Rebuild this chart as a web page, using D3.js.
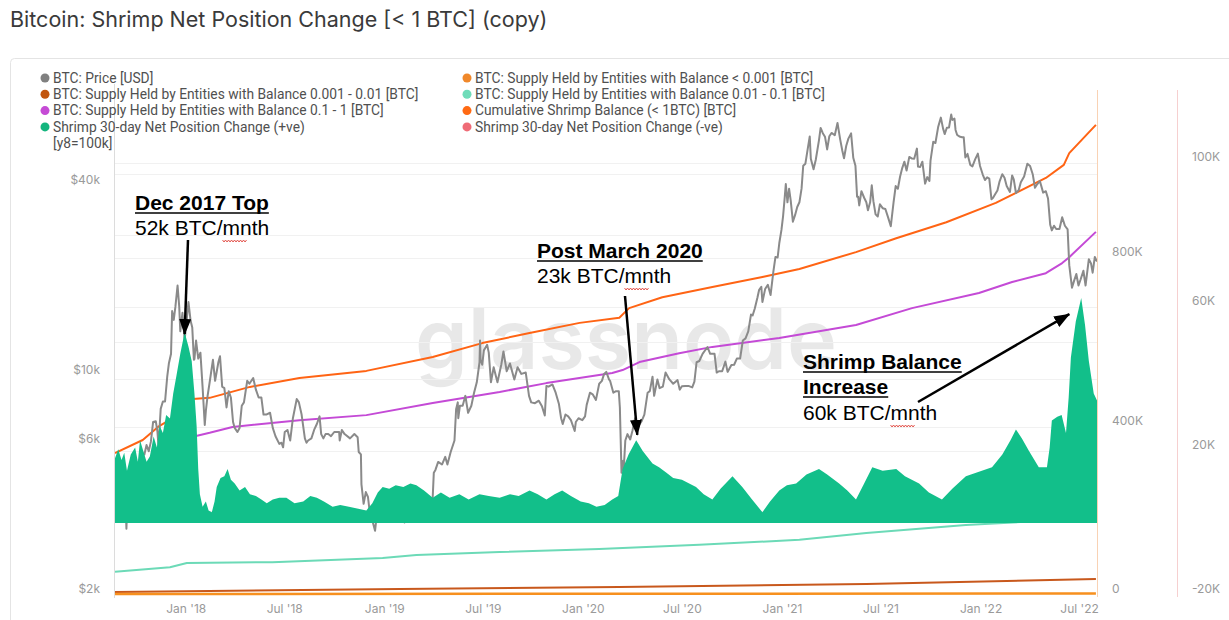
<!DOCTYPE html>
<html>
<head>
<meta charset="utf-8">
<script src="https://cdn.jsdelivr.net/npm/d3@7"></script>
<style>
  body { margin: 0; background: #fff; }
  svg { display: block; }
</style>
</head>
<body>
<svg id="chart" width="1229" height="620"></svg>
<script>
// ---- data ----
const priceData = [
  ["2017-08-24",4320],["2017-08-28",4380],["2017-09-01",4900],["2017-09-05",4600],["2017-09-08",4230],
  ["2017-09-12",4170],["2017-09-14",3250],["2017-09-15",3700],["2017-09-18",4090],["2017-09-22",3630],
  ["2017-09-26",3900],["2017-09-30",4340],["2017-10-05",4330],["2017-10-10",4780],["2017-10-13",5650],
  ["2017-10-17",5600],["2017-10-21",6000],["2017-10-25",5730],["2017-10-29",6150],["2017-11-02",7100],
  ["2017-11-07",7140],["2017-11-10",6620],["2017-11-12",5950],["2017-11-16",7820],["2017-11-20",8250],
  ["2017-11-24",8250],["2017-11-28",9900],["2017-12-01",10900],["2017-12-05",11700],["2017-12-07",16000],
  ["2017-12-10",15000],["2017-12-13",16500],["2017-12-17",19300],["2017-12-20",16600],["2017-12-22",13800],
  ["2017-12-26",15800],["2017-12-30",12950],["2018-01-03",15100],["2018-01-06",17100],["2018-01-10",14900],
  ["2018-01-13",14200],["2018-01-16",11200],["2018-01-17",11250],["2018-01-20",12900],["2018-01-24",11300],
  ["2018-01-28",11800],["2018-02-01",9170],["2018-02-05",6950],["2018-02-07",7700],["2018-02-10",8550],
  ["2018-02-14",9500],["2018-02-20",11200],["2018-02-24",9600],["2018-03-02",11000],["2018-03-05",11500],
  ["2018-03-09",9200],["2018-03-13",9100],["2018-03-17",7900],["2018-03-21",8900],["2018-03-25",8500],
  ["2018-03-29",7100],["2018-04-01",6800],["2018-04-06",6600],["2018-04-10",6800],["2018-04-14",8000],
  ["2018-04-18",8200],["2018-04-24",9600],["2018-04-28",9400],["2018-05-05",9800],["2018-05-10",9000],
  ["2018-05-15",8500],["2018-05-20",8500],["2018-05-24",7500],["2018-05-29",7500],["2018-06-05",7600],
  ["2018-06-10",6800],["2018-06-15",6400],["2018-06-22",6050],["2018-06-26",6100],["2018-06-29",5900],
  ["2018-07-02",6600],["2018-07-07",6700],["2018-07-12",6200],["2018-07-17",7300],["2018-07-24",8400],
  ["2018-07-28",8200],["2018-08-02",7500],["2018-08-08",6300],["2018-08-11",6100],["2018-08-14",6200],
  ["2018-08-20",6300],["2018-08-25",6700],["2018-08-30",7000],["2018-09-04",7400],["2018-09-07",6500],
  ["2018-09-11",6300],["2018-09-15",6500],["2018-09-20",6500],["2018-09-25",6400],["2018-10-01",6600],
  ["2018-10-10",6600],["2018-10-11",6200],["2018-10-15",6700],["2018-10-20",6500],["2018-10-30",6300],
  ["2018-11-07",6500],["2018-11-13",6350],["2018-11-15",5700],["2018-11-19",5600],["2018-11-20",4500],
  ["2018-11-24",3900],["2018-11-28",4250],["2018-12-02",4100],["2018-12-07",3450],["2018-12-11",3400],
  ["2018-12-15",3200],["2018-12-19",3700],["2018-12-21",4000],["2018-12-24",4000],["2018-12-28",3850],
  ["2019-01-02",3900],["2019-01-08",4000],["2019-01-10",3600],["2019-01-15",3600],["2019-01-20",3600],
  ["2019-01-28",3450],["2019-02-02",3500],["2019-02-07",3400],["2019-02-10",3600],["2019-02-15",3600],
  ["2019-02-19",3900],["2019-02-24",4150],["2019-02-25",3800],["2019-03-04",3750],["2019-03-10",3900],
  ["2019-03-16",4000],["2019-03-25",3950],["2019-03-31",4100],["2019-04-02",4900],["2019-04-05",5000],
  ["2019-04-10",5300],["2019-04-17",5200],["2019-04-23",5500],["2019-04-27",5200],["2019-05-03",5700],
  ["2019-05-10",6200],["2019-05-13",7800],["2019-05-16",8200],["2019-05-17",7300],["2019-05-20",8000],
  ["2019-05-25",8000],["2019-05-30",8600],["2019-06-04",7600],["2019-06-10",8000],["2019-06-15",8800],
  ["2019-06-20",9500],["2019-06-25",11000],["2019-06-26",12900],["2019-06-27",11200],["2019-06-30",10800],
  ["2019-07-03",12000],["2019-07-09",12500],["2019-07-12",11800],["2019-07-16",9500],["2019-07-21",10600],
  ["2019-07-28",9500],["2019-08-04",10800],["2019-08-08",11900],["2019-08-14",10300],["2019-08-20",10900],
  ["2019-08-28",9700],["2019-09-03",10600],["2019-09-10",10100],["2019-09-18",10200],["2019-09-24",8600],
  ["2019-09-28",8200],["2019-10-05",8150],["2019-10-12",8300],["2019-10-18",7950],["2019-10-23",7450],
  ["2019-10-26",9250],["2019-10-30",9200],["2019-11-06",9350],["2019-11-12",8800],["2019-11-18",8100],
  ["2019-11-22",7300],["2019-11-25",7000],["2019-11-30",7500],["2019-12-05",7400],["2019-12-10",7200],
  ["2019-12-17",6650],["2019-12-19",7100],["2019-12-24",7300],["2019-12-31",7200],["2020-01-05",7400],
  ["2020-01-08",8050],["2020-01-14",8800],["2020-01-19",8700],["2020-01-25",8350],["2020-01-31",9400],
  ["2020-02-05",9600],["2020-02-09",10100],["2020-02-13",10250],["2020-02-18",9700],["2020-02-20",9600],
  ["2020-02-26",8800],["2020-03-02",8900],["2020-03-07",8900],["2020-03-09",7900],["2020-03-12",4900],
  ["2020-03-15",5350],["2020-03-16",5000],["2020-03-19",6200],["2020-03-23",6500],["2020-03-28",6250],
  ["2020-04-01",6650],["2020-04-06",7300],["2020-04-12",6900],["2020-04-18",7150],["2020-04-23",7500],
  ["2020-04-29",8800],["2020-05-03",8900],["2020-05-08",9900],["2020-05-11",8600],["2020-05-17",9700],
  ["2020-05-21",9100],["2020-05-27",9200],["2020-06-01",10200],["2020-06-08",9700],["2020-06-15",9400],
  ["2020-06-23",9650],["2020-06-27",9000],["2020-07-01",9230],["2020-07-07",9250],["2020-07-13",9250],
  ["2020-07-20",9150],["2020-07-24",9550],["2020-07-28",11000],["2020-08-02",11100],["2020-08-08",11700],
  ["2020-08-17",12300],["2020-08-22",11700],["2020-08-30",11700],["2020-09-03",10200],["2020-09-07",10300],
  ["2020-09-13",10300],["2020-09-19",11050],["2020-09-23",10250],["2020-09-30",10780],["2020-10-05",10800],
  ["2020-10-10",11300],["2020-10-16",11300],["2020-10-21",12900],["2020-10-26",13100],["2020-10-31",13800],
  ["2020-11-05",15600],["2020-11-08",15500],["2020-11-12",16300],["2020-11-17",17700],["2020-11-20",18700],
  ["2020-11-24",19100],["2020-11-26",17100],["2020-12-01",18800],["2020-12-06",19400],["2020-12-11",18000],
  ["2020-12-16",21300],["2020-12-20",23800],["2020-12-24",23700],["2020-12-27",26300],["2020-12-31",29000],
  ["2021-01-03",32100],["2021-01-06",36800],["2021-01-08",40600],["2021-01-11",35500],["2021-01-14",39200],
  ["2021-01-17",36000],["2021-01-21",30800],["2021-01-25",32300],["2021-01-29",34300],["2021-02-02",35500],
  ["2021-02-06",39300],["2021-02-09",46400],["2021-02-13",47100],["2021-02-17",52100],["2021-02-21",57500],
  ["2021-02-23",48800],["2021-02-28",45200],["2021-03-04",48400],["2021-03-10",56000],["2021-03-13",61200],
  ["2021-03-17",58900],["2021-03-21",57400],["2021-03-25",52300],["2021-03-29",57600],["2021-04-02",59000],
  ["2021-04-08",58000],["2021-04-13",63500],["2021-04-18",56200],["2021-04-22",51700],["2021-04-25",49000],
  ["2021-04-29",53600],["2021-05-03",56600],["2021-05-08",58800],["2021-05-12",49200],["2021-05-16",46400],
  ["2021-05-19",37000],["2021-05-21",37000],["2021-05-23",34700],["2021-05-27",38500],["2021-06-01",36700],
  ["2021-06-05",35500],["2021-06-08",33500],["2021-06-12",35500],["2021-06-15",40200],["2021-06-18",35800],
  ["2021-06-22",32500],["2021-06-26",32000],["2021-06-30",35000],["2021-07-05",34000],["2021-07-10",33800],
  ["2021-07-15",31800],["2021-07-20",29800],["2021-07-25",35400],["2021-07-29",40000],["2021-08-02",39200],
  ["2021-08-06",42800],["2021-08-10",45600],["2021-08-14",47800],["2021-08-18",44800],["2021-08-23",49500],
  ["2021-08-28",48900],["2021-09-01",48800],["2021-09-06",52600],["2021-09-08",46100],["2021-09-12",46000],
  ["2021-09-16",47800],["2021-09-21",40700],["2021-09-25",42700],["2021-09-29",41500],["2021-10-01",48200],
  ["2021-10-06",55300],["2021-10-10",54800],["2021-10-15",61600],["2021-10-20",66000],["2021-10-24",61000],
  ["2021-10-27",58500],["2021-10-31",61300],["2021-11-04",61400],["2021-11-08",67500],["2021-11-10",64900],
  ["2021-11-14",65500],["2021-11-16",60300],["2021-11-19",58100],["2021-11-23",57500],["2021-11-28",57200],
  ["2021-12-01",57200],["2021-12-04",49300],["2021-12-08",50600],["2021-12-13",46700],["2021-12-17",46200],
  ["2021-12-22",48600],["2021-12-27",50700],["2021-12-31",46300],["2022-01-05",43500],["2022-01-09",41800],
  ["2022-01-13",42600],["2022-01-17",42200],["2022-01-21",36300],["2022-01-24",36700],["2022-01-28",37700],
  ["2022-02-01",38700],["2022-02-05",41400],["2022-02-10",43600],["2022-02-14",42500],["2022-02-18",40000],
  ["2022-02-24",38300],["2022-02-28",43200],["2022-03-03",42000],["2022-03-07",38000],["2022-03-12",38800],
  ["2022-03-16",41100],["2022-03-22",42900],["2022-03-28",47100],["2022-04-02",46300],["2022-04-07",43500],
  ["2022-04-11",39500],["2022-04-15",40500],["2022-04-20",41500],["2022-04-26",38100],["2022-05-01",38500],
  ["2022-05-05",36500],["2022-05-09",30100],["2022-05-12",28900],["2022-05-16",29900],["2022-05-20",29200],
  ["2022-05-26",29200],["2022-05-31",31800],["2022-06-05",29900],["2022-06-10",29100],["2022-06-13",22400],
  ["2022-06-18",19000],["2022-06-22",20000],["2022-06-26",21000],["2022-06-30",19300],["2022-07-04",20200],
  ["2022-07-09",21500],["2022-07-13",19300],["2022-07-19",23400],["2022-07-23",22700],["2022-07-26",21200],
  ["2022-07-30",23800],["2022-08-03",23000]
];

// Shrimp 30-day Net Position Change (+ve) [BTC]
const netPositive = [
  ["2017-08-24",18000],["2017-08-30",20500],["2017-09-05",17500],["2017-09-10",19500],["2017-09-15",14500],
  ["2017-09-22",19000],["2017-09-30",21000],["2017-10-05",17000],["2017-10-09",23000],["2017-10-15",20000],
  ["2017-10-21",17000],["2017-10-27",18500],["2017-11-03",24000],["2017-11-09",21000],["2017-11-14",27000],
  ["2017-11-20",25000],["2017-11-26",30000],["2017-12-03",29000],["2017-12-09",36000],["2017-12-15",41000],
  ["2017-12-22",47000],["2017-12-30",53000],["2018-01-06",49000],["2018-01-12",45000],["2018-01-17",36000],
  ["2018-01-21",27000],["2018-01-24",15000],["2018-01-27",8000],["2018-02-01",4500],["2018-02-07",6000],
  ["2018-02-12",3500],["2018-02-18",3000],["2018-02-23",6000],["2018-02-27",10000],["2018-03-06",12500],
  ["2018-03-13",13000],["2018-03-19",15000],["2018-03-25",12000],["2018-04-01",11000],["2018-04-10",9000],
  ["2018-04-20",10000],["2018-04-29",8000],["2018-05-10",7500],["2018-05-20",6500],["2018-05-30",5500],
  ["2018-06-10",6500],["2018-06-22",7000],["2018-07-05",7000],["2018-07-20",5500],["2018-08-05",6000],
  ["2018-08-18",7500],["2018-08-30",7000],["2018-09-12",6000],["2018-09-28",4500],["2018-10-12",5000],
  ["2018-10-28",4500],["2018-11-12",4000],["2018-11-29",3500],["2018-12-10",5500],["2018-12-20",8500],
  ["2018-12-29",10000],["2019-01-10",9500],["2019-01-22",10500],["2019-02-05",10000],["2019-02-18",11000],
  ["2019-03-01",10500],["2019-03-15",9000],["2019-03-31",7000],["2019-04-15",8500],["2019-05-01",7000],
  ["2019-05-19",8000],["2019-06-05",6500],["2019-06-25",8000],["2019-07-12",7500],["2019-08-01",7000],
  ["2019-08-20",8000],["2019-09-05",7500],["2019-09-25",9000],["2019-10-10",8000],["2019-10-26",6500],
  ["2019-11-10",8000],["2019-11-24",9000],["2019-12-10",7500],["2019-12-28",6000],["2020-01-12",5500],
  ["2020-01-26",4500],["2020-02-10",5000],["2020-02-24",6500],["2020-03-06",7500],["2020-03-14",15000],
  ["2020-03-25",19000],["2020-04-08",23000],["2020-04-20",20000],["2020-05-08",16500],["2020-05-20",15500],
  ["2020-06-02",14000],["2020-06-15",12500],["2020-07-01",12000],["2020-07-27",10000],["2020-08-10",8000],
  ["2020-08-26",6500],["2020-09-10",9500],["2020-10-02",13000],["2020-10-20",10000],["2020-11-07",6500],
  ["2020-11-26",3000],["2020-12-10",6000],["2020-12-27",9000],["2021-01-10",10500],["2021-01-27",11000],
  ["2021-02-15",13500],["2021-03-10",15000],["2021-03-25",13500],["2021-04-16",11000],["2021-05-01",9000],
  ["2021-05-17",6500],["2021-06-01",11000],["2021-06-16",15500],["2021-07-05",14500],["2021-07-30",15000],
  ["2021-08-15",13000],["2021-09-10",11000],["2021-09-28",8500],["2021-10-22",6500],["2021-11-10",9500],
  ["2021-12-05",13000],["2021-12-25",14000],["2022-01-22",15500],["2022-02-10",19000],["2022-02-25",23000],
  ["2022-03-07",26000],["2022-03-18",23500],["2022-03-31",20000],["2022-04-18",15500],["2022-05-03",15500],
  ["2022-05-08",21000],["2022-05-12",28500],["2022-05-22",29500],["2022-05-30",30000],["2022-06-07",25000],
  ["2022-06-12",35000],["2022-06-16",46000],["2022-06-25",56000],["2022-07-05",62500],["2022-07-12",55000],
  ["2022-07-19",45000],["2022-07-28",36000],["2022-08-03",34000]
];

// Cumulative Shrimp Balance (< 1BTC) [BTC]
const cumulativeShrimp = [
  ["2017-08-24",337000],["2017-10-14",368000],["2017-11-11",399000],["2017-12-08",420000],["2018-01-14",465000],
  ["2018-02-14",468000],["2018-04-29",494000],["2018-07-29",515000],["2018-11-29",532000],["2019-03-31",565000],
  ["2019-06-30",598000],["2019-09-25",622000],["2019-12-26",646000],["2020-03-08",658000],["2020-03-26",681000],
  ["2020-05-26",707000],["2020-08-26",731000],["2020-11-26",755000],["2021-02-02",774000],["2021-05-17",814000],
  ["2021-07-30",847000],["2021-10-30",885000],["2022-01-29",931000],["2022-05-01",990000],["2022-06-03",1021000],
  ["2022-06-13",1049000],["2022-08-01",1116000]
];

// Supply held by entities with balance 0.1 - 1 [BTC]
const supply01to1 = [
  ["2018-01-18",377000],["2018-02-14",385000],["2018-03-28",399000],["2018-07-29",415000],["2018-11-29",427000],
  ["2019-03-31",456000],["2019-08-01",482000],["2019-10-26",503000],["2020-02-24",527000],["2020-03-14",534000],
  ["2020-04-14",553000],["2020-06-26",574000],["2020-08-26",589000],["2020-12-27",610000],["2021-05-17",641000],
  ["2021-08-28",681000],["2021-12-29",717000],["2022-02-28",743000],["2022-05-01",764000],["2022-05-31",788000],
  ["2022-06-13",802000],["2022-08-01",862000]
];

// Supply held by entities with balance 0.01 - 0.1 [BTC]
const supply001to01 = [
  ["2017-08-24",55000],["2017-12-03",66000],["2018-01-03",76000],["2018-06-09",78000],["2018-12-29",88000],
  ["2019-03-01",95000],["2019-08-01",102000],["2020-01-31",109000],["2020-08-02",119000],["2021-02-02",131000],
  ["2021-06-05",147000],["2021-12-05",166000],["2022-08-01",183000]
];

// Supply held by entities with balance 0.001 - 0.01 [BTC]
const supply0001to001 = [
  ["2017-08-24",7000],["2019-01-29",14000],["2020-03-08",19000],["2021-06-05",26000],["2022-08-01",38000]
];

// Supply held by entities with balance < 0.001 [BTC]
const supplyLt0001 = [
  ["2017-08-24",2400],["2020-01-31",2900],["2022-08-01",3500]
];

const priceTicks = [2000, 6000, 10000, 40000];
const priceTickLabels = ["$2k", "$6k", "$10k", "$40k"];
const supplyTicks = [0, 400000, 800000];
const supplyTickLabels = ["0", "400K", "800K"];
const netTicks = [-20000, 20000, 60000, 100000];
const netTickLabels = ["-20K", "20K", "60K", "100K"];
const timeTicks = ["2018-01-01","2018-07-01","2019-01-01","2019-07-01","2020-01-01","2020-07-01","2021-01-01","2021-07-01","2022-01-01","2022-07-01"];
const timeTickLabels = ["Jan '18","Jul '18","Jan '19","Jul '19","Jan '20","Jul '20","Jan '21","Jul '21","Jan '22","Jul '22"];

const legendItems = [
  { name: "BTC: Price [USD]", color: "#808080" },
  { name: "BTC: Supply Held by Entities with Balance < 0.001 [BTC]", color: "#f0882a" },
  { name: "BTC: Supply Held by Entities with Balance 0.001 - 0.01 [BTC]", color: "#c2560f" },
  { name: "BTC: Supply Held by Entities with Balance 0.01 - 0.1 [BTC]", color: "#6fdcb9" },
  { name: "BTC: Supply Held by Entities with Balance 0.1 - 1 [BTC]", color: "#c54bd5" },
  { name: "Cumulative Shrimp Balance (< 1BTC) [BTC]", color: "#ff6a13" },
  { name: "Shrimp 30-day Net Position Change (+ve)", color: "#14b57e" },
  { name: "Shrimp 30-day Net Position Change (-ve)", color: "#ef6b76" }
];

// ---- drawing ----
const parse = d3.timeParse("%Y-%m-%d");
const svg = d3.select("#chart");
const plotLeft = 115, plotRight = 1097, plotTop = 90, plotBottom = 595;

const x = d3.scaleTime().domain([parse("2017-08-24"), parse("2022-08-03")]).range([plotLeft, plotRight]);
const yPrice = d3.scaleLog().domain([2000, 40000]).range([plotBottom, 186]);
const ySupply = d3.scaleLinear().domain([0, 800000]).range([plotBottom, 258]);
const yNet = d3.scaleLinear().domain([-20000, 100000]).range([plotBottom, 163]);

// title and frame
svg.append('text')
  .attr('x', 10).attr('y', 27)
  .attr('font-family', 'Inter, sans-serif')
  .attr('font-size', '21.5px')
  .attr('fill', '#3a3a3a')
  .text('Bitcoin: Shrimp Net Position Change [< 1 BTC] (copy)');

svg.append('rect')
  .attr('x', 10.5).attr('y', 58.5).attr('width', 1240).attr('height', 600)
  .attr('rx', 4).attr('fill', 'none').attr('stroke', '#e4e4e4');

// watermark
svg.append('text')
  .attr('x', 415).attr('y', 369)
  .attr('font-family', 'Inter, sans-serif')
  .attr('font-weight', 600)
  .attr('font-size', '84px')
  .attr('textLength', 422).attr('lengthAdjust', 'spacingAndGlyphs')
  .attr('fill', '#000').attr('fill-opacity', 0.09)
  .text('glassnode');

// faint gridlines
const grid = svg.append('g').attr('stroke', '#f1f1f1').attr('stroke-width', 1);
d3.range(200000, 1100000, 200000).forEach(v => {
  grid.append('line').attr('x1', plotLeft).attr('x2', plotRight)
    .attr('y1', Math.round(ySupply(v)) + 0.5).attr('y2', Math.round(ySupply(v)) + 0.5);
});
d3.range(20000, 101000, 20000).forEach(v => {
  grid.append('line').attr('x1', plotLeft).attr('x2', plotRight)
    .attr('y1', Math.round(yNet(v)) + 0.5).attr('y2', Math.round(yNet(v)) + 0.5);
});

// axis frame lines
svg.append('line').attr('x1', 114.5).attr('x2', 114.5).attr('y1', 84).attr('y2', 598).attr('stroke', '#dcdcdc');
svg.append('line').attr('x1', 1097.5).attr('x2', 1097.5).attr('y1', 90).attr('y2', 597).attr('stroke', '#f9d2b4');
svg.append('line').attr('x1', 1177.5).attr('x2', 1177.5).attr('y1', 90).attr('y2', 597).attr('stroke', '#f6d0d0');

svg.append('defs').append('clipPath').attr('id', 'plotClip')
  .append('rect').attr('x', plotLeft).attr('y', plotTop)
  .attr('width', plotRight - plotLeft).attr('height', plotBottom - plotTop + 2);

const plot = svg.append('g').attr('clip-path', 'url(#plotClip)');

function drawLine(data, yScale, color, width) {
  const line = d3.line()
    .x(d => x(parse(d[0])))
    .y(d => yScale(d[1]));
  plot.append('path')
    .datum(data)
    .attr('fill', 'none')
    .attr('stroke', color)
    .attr('stroke-width', width)
    .attr('stroke-linejoin', 'round')
    .attr('d', line);
}

drawLine(supply001to01, ySupply, '#6cdab7', 2);
drawLine(supply0001to001, ySupply, '#c8581c', 2);
drawLine(supplyLt0001, ySupply, '#f7901e', 2.5);
drawLine(supply01to1, ySupply, '#c44ad6', 2);
drawLine(cumulativeShrimp, ySupply, '#ff6414', 2);
drawLine(priceData, yPrice, '#8a8a8a', 2);

// green net position area drawn on top
const area = d3.area()
  .x(d => x(parse(d[0])))
  .y0(yNet(0))
  .y1(d => yNet(d[1]));
plot.append('path')
  .datum(netPositive)
  .attr('fill', '#12bf8a')
  .attr('d', area);

// axes
const axisFont = g => g.selectAll('text')
  .attr('font-family', 'Inter, sans-serif')
  .attr('font-size', '12px')
  .attr('fill', '#9a9a9a');

const leftAxis = svg.append('g')
  .attr('transform', 'translate(100,-6)')
  .call(d3.axisLeft(yPrice).tickValues(priceTicks).tickSize(0)
    .tickFormat((d, i) => priceTickLabels[i]));
leftAxis.select('.domain').remove();
leftAxis.call(axisFont);
leftAxis.selectAll('text').attr('x', 0);

const supplyAxis = svg.append('g')
  .attr('transform', 'translate(1112,-6)')
  .call(d3.axisRight(ySupply).tickValues(supplyTicks).tickSize(0)
    .tickFormat((d, i) => supplyTickLabels[i]));
supplyAxis.select('.domain').remove();
supplyAxis.call(axisFont);
supplyAxis.selectAll('text').attr('x', 0);

const netAxis = svg.append('g')
  .attr('transform', 'translate(1192,-6)')
  .call(d3.axisRight(yNet).tickValues(netTicks).tickSize(0)
    .tickFormat((d, i) => netTickLabels[i]));
netAxis.select('.domain').remove();
netAxis.call(axisFont);
netAxis.selectAll('text').attr('x', 0);

const timeAxis = svg.append('g')
  .attr('transform', 'translate(0,601)')
  .call(d3.axisBottom(x).tickValues(timeTicks.map(parse)).tickSize(0)
    .tickFormat((d, i) => timeTickLabels[i]));
timeAxis.select('.domain').remove();
timeAxis.call(axisFont);

// legend
const legend = svg.append('g')
  .attr('font-family', 'Roboto, sans-serif')
  .attr('font-size', '13.8px')
  .attr('fill', '#505050');
legendItems.forEach((item, i) => {
  const col = i % 2, row = Math.floor(i / 2);
  const lx = col === 0 ? 45 : 467;
  const ly = 78 + row * 16.3;
  legend.append('circle').attr('cx', lx).attr('cy', ly).attr('r', 4.5).attr('fill', item.color);
  legend.append('text').attr('x', lx + 8).attr('y', ly).attr('dy', '0.35em').text(item.name);
});
legend.append('text').attr('x', 53).attr('y', 143).attr('dy', '0.35em').text('[y8=100k]');

// annotations
svg.append('defs').append('marker')
  .attr('id', 'arrow')
  .attr('markerUnits', 'userSpaceOnUse')
  .attr('viewBox', '0 0 16 12')
  .attr('markerWidth', 16).attr('markerHeight', 12)
  .attr('refX', 15).attr('refY', 6)
  .attr('orient', 'auto')
  .append('path').attr('d', 'M0,0 L16,6 L0,12 z').attr('fill', '#000');

const notes = svg.append('g')
  .attr('font-family', '"Liberation Sans", Arial, sans-serif')
  .attr('font-size', '21px').attr('fill', '#000');

function boldUnderlined(tx, ty, str) {
  const t = notes.append('text').attr('x', tx).attr('y', ty).attr('font-weight', 'bold').text(str);
  const w = t.node().getComputedTextLength();
  notes.append('line').attr('x1', tx).attr('x2', tx + w).attr('y1', ty + 3).attr('y2', ty + 3)
    .attr('stroke', '#000').attr('stroke-width', 1.5);
}
function plainWithSquiggle(tx, ty, str, wordIdx) {
  const t = notes.append('text').attr('x', tx).attr('y', ty).text(str);
  // red spell-check squiggle under "mnth"
  const start = t.node().getSubStringLength(0, wordIdx);
  const w = t.node().getComputedTextLength() - start;
  let d = `M${tx + start},${ty + 5}`;
  for (let k = 0; k * 3 < w; k++) d += ` l1.5,${k % 2 ? -2 : 2}`;
  notes.append('path').attr('d', d).attr('fill', 'none').attr('stroke', '#e0443c').attr('stroke-width', 0.9);
}
function arrow(x1, y1, dateStr, value) {
  notes.append('line')
    .attr('x1', x1).attr('y1', y1)
    .attr('x2', x(parse(dateStr))).attr('y2', yNet(value))
    .attr('stroke', '#000').attr('stroke-width', 2.5)
    .attr('marker-end', 'url(#arrow)');
}

boldUnderlined(135, 210, 'Dec 2017 Top');
plainWithSquiggle(135, 235, '52k BTC/mnth', 8);
arrow(188, 240, '2017-12-30', 52500);

boldUnderlined(537, 258, 'Post March 2020');
plainWithSquiggle(537, 283, '23k BTC/mnth', 8);
arrow(625, 296, '2020-04-10', 24500);

boldUnderlined(803, 369, 'Shrimp Balance');
boldUnderlined(803, 394, 'Increase');
plainWithSquiggle(803, 420, '60k BTC/mnth', 8);
arrow(918, 402, '2022-06-13', 58000);
</script>
</body>
</html>
